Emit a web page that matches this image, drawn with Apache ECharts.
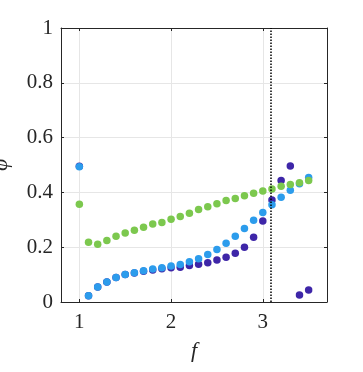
<!DOCTYPE html>
<html>
  <head>
      <meta charset="utf-8">
      <script src="https://cdn.jsdelivr.net/npm/echarts@6/dist/echarts.min.js"></script>
      <style>html,body{margin:0;padding:0;background:#fff;}</style>
  </head>
  <body>
      <div id="main" style="width: 363px;height:372px;"></div>
      <script type="text/javascript">
          // frequency values shared by all three series
          var fVals = [1.0, 1.1, 1.2, 1.3, 1.4, 1.5, 1.6, 1.7, 1.8, 1.9, 2.0, 2.1, 2.2,
                       2.3, 2.4, 2.5, 2.6, 2.7, 2.8, 2.9, 3.0, 3.1, 3.2, 3.3, 3.4, 3.5];
          var phiDark = [0.495, 0.023, 0.055, 0.073, 0.089, 0.100, 0.106, 0.112, 0.117, 0.121, 0.125, 0.127, 0.133,
                         0.138, 0.143, 0.153, 0.163, 0.178, 0.200, 0.236, 0.296, 0.372, 0.443, 0.496, 0.026, 0.044];
          var phiBlue = [0.494, 0.023, 0.055, 0.073, 0.089, 0.100, 0.107, 0.114, 0.120, 0.125, 0.131, 0.137, 0.147,
                         0.158, 0.173, 0.192, 0.214, 0.240, 0.268, 0.298, 0.327, 0.355, 0.382, 0.408, 0.432, 0.454];
          var phiGreen = [0.357, 0.218, 0.211, 0.224, 0.240, 0.252, 0.262, 0.273, 0.285, 0.290, 0.302, 0.312, 0.324,
                          0.338, 0.348, 0.359, 0.370, 0.378, 0.388, 0.397, 0.405, 0.412, 0.422, 0.429, 0.435, 0.443];
          var xTicks = [1, 2, 3];
          var fCritical = 3.09;

          function pairs(ys) {
              return fVals.map(function (f, i) { return [f, ys[i]]; });
          }

          var myChart = echarts.init(document.getElementById('main'));
          var fontFam = 'Liberation Serif';
          var axisCol = '#262626';

          var option = {
              animation: false,
              grid: {left: 61, right: 36, top: 28, bottom: 70, outerBoundsMode: 'none', containLabel: false},
              xAxis: [
                  {
                      type: 'value', min: 0.8, max: 3.7,
                      name: 'f', nameLocation: 'middle', nameGap: 38,
                      nameTextStyle: {fontFamily: fontFam, fontStyle: 'italic', fontSize: 22, color: '#262626'},
                      axisLine: {show: true, onZero: false, lineStyle: {color: axisCol, width: 1}},
                      axisTick: {show: true, inside: true, length: 3, customValues: xTicks, lineStyle: {color: axisCol}},
                      axisLabel: {customValues: xTicks, margin: 10, fontFamily: fontFam, fontSize: 21, color: '#262626'},
                      splitLine: {show: true, lineStyle: {color: '#e6e6e6', width: 1}}
                  },
                  {
                      type: 'value', min: 0.8, max: 3.7, position: 'top',
                      axisLine: {show: true, onZero: false, lineStyle: {color: axisCol, width: 1}},
                      axisTick: {show: true, inside: true, length: 3, customValues: xTicks, lineStyle: {color: axisCol}},
                      axisLabel: {show: false},
                      splitLine: {show: false}
                  }
              ],
              yAxis: [
                  {
                      type: 'value', min: 0, max: 1, interval: 0.2,
                      name: 'φ', nameLocation: 'middle', nameGap: 49,
                      nameTextStyle: {fontFamily: fontFam, fontStyle: 'italic', fontSize: 22, color: '#262626'},
                      axisLine: {show: true, onZero: false, lineStyle: {color: axisCol, width: 1}},
                      axisTick: {show: true, inside: true, length: 3, lineStyle: {color: axisCol}},
                      axisLabel: {margin: 8, fontFamily: fontFam, fontSize: 21, color: '#262626'},
                      splitLine: {show: true, lineStyle: {color: '#e6e6e6', width: 1}}
                  },
                  {
                      type: 'value', min: 0, max: 1, interval: 0.2, position: 'right',
                      axisLine: {show: true, onZero: false, lineStyle: {color: axisCol, width: 1}},
                      axisTick: {show: true, inside: true, length: 3, lineStyle: {color: axisCol}},
                      axisLabel: {show: false},
                      splitLine: {show: false}
                  }
              ],
              series: [
                  {
                      name: 'dark', type: 'scatter', symbolSize: 7.5,
                      itemStyle: {color: '#3e26a8', opacity: 1},
                      data: pairs(phiDark),
                      markLine: {
                          silent: true, symbol: 'none', animation: false, z: 10,
                          label: {show: false},
                          lineStyle: {color: '#000', type: [1.5, 1.5], width: 1.5},
                          data: [{xAxis: fCritical}]
                      }
                  },
                  {
                      name: 'blue', type: 'scatter', symbolSize: 7.5,
                      itemStyle: {color: '#2c9cec', opacity: 1},
                      data: pairs(phiBlue)
                  },
                  {
                      name: 'green', type: 'scatter', symbolSize: 7.5,
                      itemStyle: {color: '#7cc84e', opacity: 1},
                      data: pairs(phiGreen)
                  }
              ]
          };
          myChart.setOption(option);
      </script>
  </body>
</html>
